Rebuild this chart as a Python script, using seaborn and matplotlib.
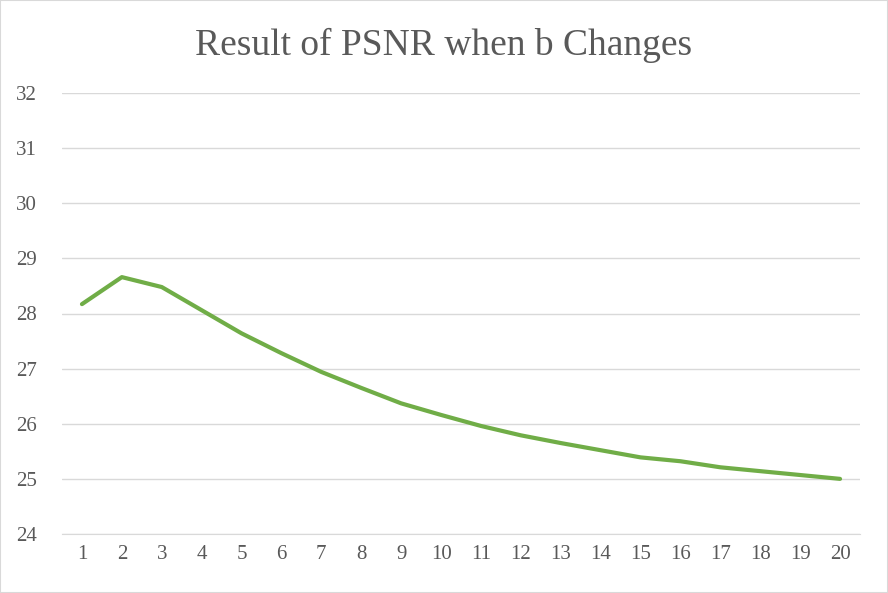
import matplotlib
matplotlib.use("Agg")
import matplotlib.pyplot as plt
import seaborn as sns
import pandas as pd

b_values = list(range(1, 21))
psnr = [28.17, 28.66, 28.48, 28.06, 27.64, 27.28, 26.94, 26.65, 26.37, 26.16,
        25.96, 25.79, 25.65, 25.52, 25.39, 25.32, 25.21, 25.14, 25.07, 25.00]

df = pd.DataFrame({"b": b_values, "PSNR": psnr})

sns.set_style("white")
plt.rcParams['font.family'] = ['Liberation Serif', 'DejaVu Serif']

fig = plt.figure(figsize=(8.88, 5.93), dpi=100)
ax = fig.add_axes([62/888, 1 - 534/593, (860-62)/888, (534-93)/593])

sns.lineplot(data=df, x="b", y="PSNR", color="#70AD47", linewidth=3, ax=ax)

ax.set_xlim(0.5, 20.5)
ax.set_ylim(24, 32)
ax.set_xticks(b_values)
ax.set_yticks(range(24, 33))
ax.yaxis.grid(True, color="#D9D9D9", linewidth=1)
ax.xaxis.grid(False)
for s in ["top", "left", "right"]:
    ax.spines[s].set_visible(False)
ax.spines["bottom"].set_color("#D9D9D9")
ax.tick_params(axis="both", length=0, labelsize=15, labelcolor="#595959")
ax.tick_params(axis="x", pad=8)
ax.tick_params(axis="y", pad=18)
ax.set_xlabel("")
ax.set_ylabel("")
fig.suptitle("Result of PSNR when b Changes", y=1 - 45/593, va="center",
             fontsize=27, color="#595959")

fig.patches.append(plt.Rectangle((0, 0), 1, 1, transform=fig.transFigure,
                                 fill=False, edgecolor="#D9D9D9", linewidth=1.5))

fig.savefig("out.png", dpi=100)
